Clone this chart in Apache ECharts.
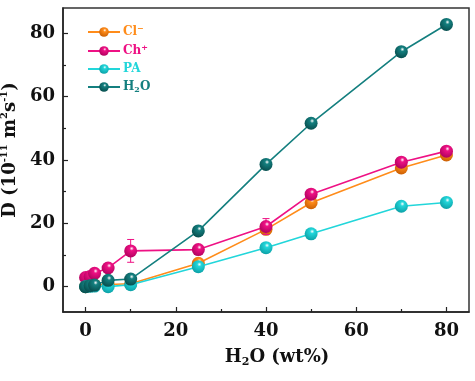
<!DOCTYPE html>
<html><head><meta charset="utf-8">
<script src="https://cdn.jsdelivr.net/npm/echarts@6/dist/echarts.min.js"></script>
<style>html,body{margin:0;padding:0;background:#fff}#c{width:475px;height:381px}</style>
</head><body><div id="c"></div>
<script>
var water = [0, 1, 2, 5, 10, 25, 40, 50, 70, 80];
var clValues = [0, 0.3, 0.5, 0.7, 0.9, 7.4, 18.1, 26.5, 37.5, 41.6];
var chValues = [2.9, 3.2, 4.2, 5.9, 11.3, 11.7, 19.0, 29.2, 39.3, 42.8];
var paValues = [0, 0.1, 0.2, 0, 0.6, 6.3, 12.3, 16.7, 25.4, 26.6];
var h2oValues = [0, 0.3, 0.5, 2.0, 2.4, 17.6, 38.6, 51.6, 74.2, 82.8];
var chErr = [0, 0, 0, 0, 3.6, 0, 2.5, 0, 0, 0];
var xTicks = [0, 20, 40, 60, 80];
var xMinor = [10, 30, 50, 70];
var yTicks = [0, 20, 40, 60, 80];
var yMinor = [10, 30, 50, 70];
var seriesNames = ['Cl-', 'Ch+', 'PA', 'H2O'];
var seriesColors = ['#ff8c1a', '#ee1184', '#22d6da', '#147f7f'];
var darkColors = ['#c55a00', '#a8005a', '#0a9aa0', '#064848'];

function pairs(vals) { return water.map(function (x, i) { return [x, vals[i]]; }); }
function sphere(i) {
  return new echarts.graphic.RadialGradient(0.58, 0.32, 0.75, [
    { offset: 0, color: '#ffffff' },
    { offset: 0.22, color: seriesColors[i] },
    { offset: 1, color: darkColors[i] }
  ]);
}
var chart = echarts.init(document.getElementById('c'), null, { renderer: 'canvas' });
var serif = 'DejaVu Serif';
var allVals = [clValues, chValues, paValues, h2oValues];
var series = allVals.map(function (v, i) {
  return {
    name: seriesNames[i], type: 'line', data: pairs(v), symbol: 'circle', symbolSize: 13,
    lineStyle: { color: seriesColors[i], width: 1.6 },
    itemStyle: { color: sphere(i), borderWidth: 0 },
    z: 2 + i
  };
});
series.splice(2, 0, {
  type: 'custom', name: 'err', z: 3,
  data: water.map(function (x, i) { return [x, chValues[i] - chErr[i], chValues[i] + chErr[i], chErr[i]]; }).filter(function (d) { return d[3] > 0; }),
  renderItem: function (params, api) {
    var lo = api.coord([api.value(0), api.value(1)]);
    var hi = api.coord([api.value(0), api.value(2)]);
    var w = 3.5;
    var st = { stroke: seriesColors[1], lineWidth: 1 };
    return { type: 'group', children: [
      { type: 'line', shape: { x1: hi[0], y1: hi[1], x2: lo[0], y2: lo[1] }, style: st },
      { type: 'line', shape: { x1: hi[0] - w, y1: hi[1], x2: hi[0] + w, y2: hi[1] }, style: st },
      { type: 'line', shape: { x1: lo[0] - w, y1: lo[1], x2: lo[0] + w, y2: lo[1] }, style: st }
    ] };
  }
});
var legRich = {};
seriesColors.forEach(function (c, i) {
  legRich['t' + i] = { color: c, fontFamily: serif, fontWeight: 'bold', fontSize: 12 };
  legRich['p' + i] = { color: c, fontFamily: serif, fontWeight: 'bold', fontSize: 8, verticalAlign: 'top', lineHeight: 14 };
  legRich['b' + i] = { color: c, fontFamily: serif, fontWeight: 'bold', fontSize: 8, verticalAlign: 'bottom', lineHeight: 14 };
});
var legendLabels = {
  'Cl-': ['{t0|Cl}{p0|−}'],
  'Ch+': ['{t1|Ch}{p1|+}'],
  'PA': ['{t2|PA}'],
  'H2O': ['{t3|H}{b3|2}{t3|O}']
};
var axisBase = {
  axisLine: { show: true, onZero: false, lineStyle: { color: '#222', width: 1.5 } },
  splitLine: { show: false }
};
var option = {
  animation: false,
  grid: { left: 63, right: 6, top: 8, bottom: 69, show: true, borderColor: '#333', borderWidth: 1.5, containLabel: false, outerBoundsMode: 'none' },
  legend: {
    orient: 'vertical', left: 82, top: 20, itemWidth: 32, itemHeight: 12, itemGap: 6,
    data: seriesNames,
    formatter: function (n) { return legendLabels[n][0]; },
    textStyle: { rich: legRich, padding: [0, 0, 0, -2] }
  },
  xAxis: [
    Object.assign({}, axisBase, {
      type: 'value', min: -5, max: 85,
      name: '{b|H}{s|2}{b|O (wt%)}', nameLocation: 'middle', nameGap: 34,
      nameTextStyle: { padding: [0, 0, 0, 22], rich: {
        b: { fontFamily: serif, fontWeight: 'bold', fontSize: 18, color: '#111', lineHeight: 22 },
        s: { fontFamily: serif, fontWeight: 'bold', fontSize: 11, color: '#111', verticalAlign: 'bottom', lineHeight: 22, padding: [6, 0, 0, 0] } } },
      axisTick: { inside: true, length: 5, customValues: xTicks, lineStyle: { color: '#222', width: 1.2 } },
      axisLabel: { customValues: xTicks, margin: 10, fontFamily: serif, fontWeight: 'bold', fontSize: 18, color: '#111' }
    }),
    {
      type: 'value', min: -5, max: 85, position: 'bottom',
      axisLine: { show: false, onZero: false }, splitLine: { show: false }, axisLabel: { show: false },
      axisTick: { show: true, inside: true, length: 3, customValues: xMinor, lineStyle: { color: '#222', width: 1.2 } }
    }
  ],
  yAxis: [
    Object.assign({}, axisBase, {
      type: 'value', min: -8, max: 88,
      name: '{b|D (10}{s|-11}{b| m}{s|2}{b|s}{s|-1}{b|)}', nameLocation: 'middle', nameGap: 30,
      nameTextStyle: { padding: [0, 0, 0, 20], rich: {
        b: { fontFamily: serif, fontWeight: 'bold', fontSize: 18, color: '#111', lineHeight: 22 },
        s: { fontFamily: serif, fontWeight: 'bold', fontSize: 10, color: '#111', verticalAlign: 'top', lineHeight: 22, padding: [0, 0, 8, 0] } } },
      axisTick: { inside: true, length: 5, customValues: yTicks, lineStyle: { color: '#222', width: 1.2 } },
      axisLabel: { customValues: yTicks, margin: 8, fontFamily: serif, fontWeight: 'bold', fontSize: 18, color: '#111' }
    }),
    {
      type: 'value', min: -8, max: 88, position: 'left',
      axisLine: { show: false, onZero: false }, splitLine: { show: false }, axisLabel: { show: false },
      axisTick: { show: true, inside: true, length: 3, customValues: yMinor, lineStyle: { color: '#222', width: 1.2 } }
    }
  ],
  series: series
};
chart.setOption(option);
</script></body></html>
